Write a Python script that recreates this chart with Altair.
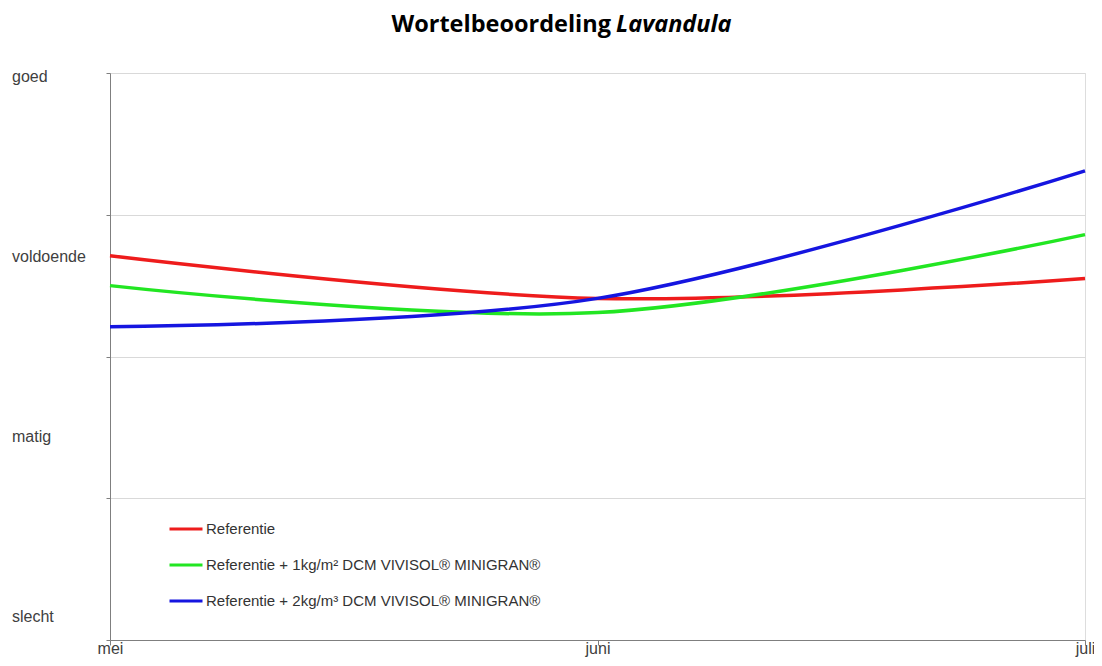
import altair as alt
import pandas as pd

# ---- data ----
months = ["mei", "juni", "juli"]
series_names = [
    "Referentie",
    "Referentie + 1kg/m² DCM VIVISOL® MINIGRAN®",
    "Referentie + 2kg/m³ DCM VIVISOL® MINIGRAN®",
]
referentie = [2.71, 2.41, 2.55]
dcm_1kg = [2.50, 2.31, 2.86]
dcm_2kg = [2.21, 2.41, 3.31]
series_values = [referentie, dcm_1kg, dcm_2kg]
colors = ["#ee1c1c", "#22e622", "#1515e0"]

rating_labels = ["goed", "voldoende", "matig", "slecht"]
rating_label_pos = [3.94, 2.67, 1.40, 0.13]
grid_values = [0, 1, 2, 3, 4]

rows = []
for name, vals in zip(series_names, series_values):
    for m, v in zip(months, vals):
        rows.append({"maand": m, "serie": name, "score": v})
df = pd.DataFrame(rows)
labels_df = pd.DataFrame({"label": rating_labels, "pos": rating_label_pos})

W, H = 975, 567
yscale = alt.Scale(domain=[0, 4], nice=False, zero=False)
xscale = alt.Scale(domain=months, padding=0)

lines = alt.Chart(df).mark_line(interpolate="cardinal", strokeWidth=3.5).encode(
    x=alt.X("maand:O", scale=xscale, sort=months, title=None,
            axis=alt.Axis(labelAngle=0, labelFont="Liberation Sans", labelFontSize=16,
                          labelColor="#404040", domainColor="#7f7f7f", tickColor="#7f7f7f",
                          tickSize=5, labelPadding=8, labelBaseline="alphabetic",
                          labelOverlap=False, grid=False)),
    y=alt.Y("score:Q", scale=yscale, title=None,
            axis=alt.Axis(values=grid_values, labels=False, grid=True, gridColor="#d9d9d9",
                          domainColor="#7f7f7f", tickColor="#7f7f7f", tickSize=4)),
    color=alt.Color("serie:N", scale=alt.Scale(domain=series_names, range=colors),
                    sort=series_names,
                    legend=alt.Legend(title=None, orient="none", legendX=58, legendY=438,
                                      symbolType="stroke", symbolSize=1089,
                                      symbolStrokeWidth=3, labelFont="Liberation Sans",
                                      labelFontSize=15, labelColor="#333333",
                                      labelOffset=2, rowPadding=10, labelLimit=0)),
)

ylabels = alt.Chart(labels_df).mark_text(
    align="left", baseline="alphabetic", font="Liberation Sans", fontSize=16, color="#404040"
).encode(
    x=alt.value(-98),
    y=alt.Y("pos:Q", scale=yscale),
    text="label:N",
)

title_df = pd.DataFrame({"a": [1]})
title1 = alt.Chart(title_df).mark_text(
    text="Wortelbeoordeling", align="right", baseline="alphabetic",
    font="Open Sans", fontWeight="bold", fontSize=23.5, color="#000000"
).encode(x=alt.value(501), y=alt.value(-41))
title2 = alt.Chart(title_df).mark_text(
    text="Lavandula", align="left", baseline="alphabetic",
    font="Open Sans", fontWeight="bold", fontStyle="italic", fontSize=23.5, color="#000000"
).encode(x=alt.value(506), y=alt.value(-41))

chart = alt.layer(lines, ylabels, title1, title2).properties(
    width=W, height=H,
    autosize=alt.AutoSizeParams(type="none"),
    padding={"left": 102, "top": 65, "right": 9, "bottom": 18},
).configure_view(stroke="#ececec").configure(background="white")

chart.save("out.html", embed_options={"renderer": "svg", "actions": False})
